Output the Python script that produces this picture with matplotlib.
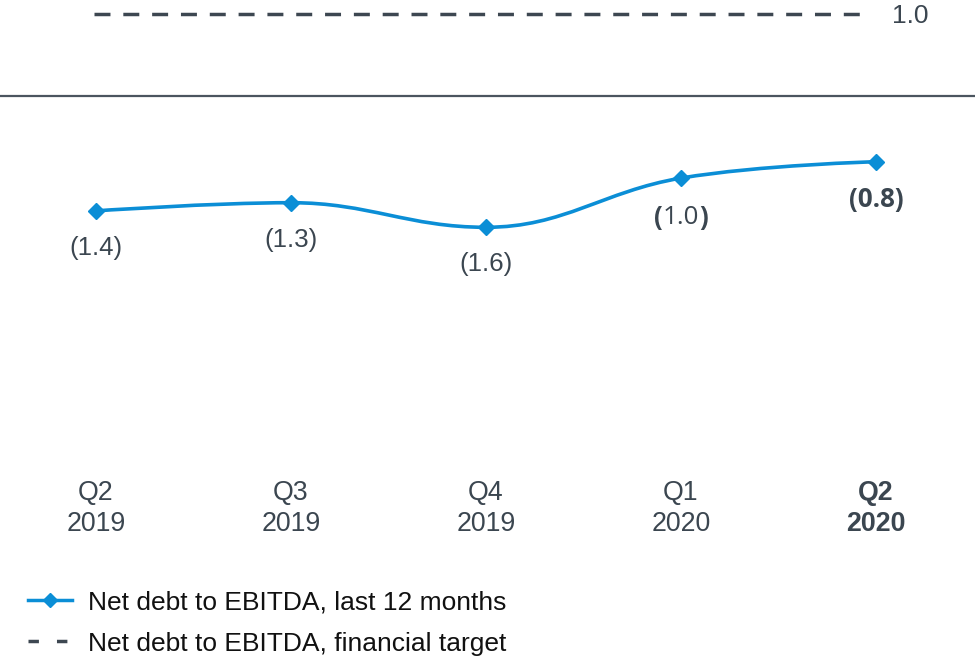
import matplotlib.pyplot as plt
from matplotlib.path import Path
from matplotlib.patches import PathPatch
from matplotlib.lines import Line2D

# data
quarters = ["Q2\n2019", "Q3\n2019", "Q4\n2019", "Q1\n2020", "Q2\n2020"]
net_debt_ebitda = [-1.4, -1.3, -1.6, -1.0, -0.8]
target = 1.0
series_label = "Net debt to EBITDA, last 12 months"
target_label = "Net debt to EBITDA, financial target"

BLUE = "#0b8ed6"
TEXT = "#3b4650"
DARK = "#3d4751"

plt.rcParams["font.family"] = ["Liberation Sans", "DejaVu Sans"]


def spline_path(xs, ys, smoothing=1.5):
    # cubic bezier through the points, tangents flattened at local extremes
    n = len(xs)
    left = [None] * n
    right = [None] * n
    denom = smoothing + 1
    for i in range(1, n - 1):
        px, py = xs[i], ys[i]
        lx, ly = xs[i - 1], ys[i - 1]
        nx, ny = xs[i + 1], ys[i + 1]
        lcx = (smoothing * px + lx) / denom
        lcy = (smoothing * py + ly) / denom
        rcx = (smoothing * px + nx) / denom
        rcy = (smoothing * py + ny) / denom
        corr = (rcy - lcy) * (rcx - px) / (rcx - lcx) + py - rcy
        lcy += corr
        rcy += corr
        if lcy > ly and lcy > py:
            lcy = max(ly, py)
            rcy = 2 * py - lcy
        elif lcy < ly and lcy < py:
            lcy = min(ly, py)
            rcy = 2 * py - lcy
        if rcy > ny and rcy > py:
            rcy = max(ny, py)
            lcy = 2 * py - rcy
        elif rcy < ny and rcy < py:
            rcy = min(ny, py)
            lcy = 2 * py - rcy
        left[i] = (lcx, lcy)
        right[i] = (rcx, rcy)
    verts = [(xs[0], ys[0])]
    codes = [Path.MOVETO]
    for i in range(1, n):
        c1 = right[i - 1] or (xs[i - 1], ys[i - 1])
        c2 = left[i] or (xs[i], ys[i])
        verts += [c1, c2, (xs[i], ys[i])]
        codes += [Path.CURVE4] * 3
    return Path(verts, codes)


W, H = 975, 659
fig = plt.figure(figsize=(W / 100, H / 100), dpi=100)
ax = fig.add_axes([0, 1 - 465 / H, 1, 465 / H])

x = list(range(len(quarters)))
ax.set_xlim(-96 / 195, (W - 96) / 195)
ax.set_ylim(-(465 - 96.1) / 82, 96.1 / 82)

# zero line
ax.axhline(0, color="#4b555f", lw=1.6, zorder=1)

# financial target
ax.hlines(target, x[0] - 0.01, x[-1] - 0.05, color=DARK, lw=2.5,
          linestyles=[(0, (4.6, 3.7))], zorder=2)
ax.annotate(f"{target:.1f}", xy=(x[-1] - 0.05, target), xytext=(18.5, -1.5),
            textcoords="offset points", ha="left", va="center",
            fontsize=19, color=TEXT)

# smoothed series + markers
ax.add_patch(PathPatch(spline_path(x, net_debt_ebitda), facecolor="none",
                       edgecolor=BLUE, lw=2.6, capstyle="round", zorder=3))
ax.plot(x, net_debt_ebitda, linestyle="none", marker="D", ms=8,
        color=BLUE, zorder=4)

# value labels
for i, v in enumerate(net_debt_ebitda):
    txt = f"({abs(v):.1f})"
    if i == len(x) - 1:
        ax.annotate(txt, xy=(i, v), xytext=(0, -27.3), textcoords="offset points",
                    ha="center", va="center", fontsize=18.7, color=TEXT,
                    family="Open Sans", fontweight="bold")
    elif i == len(x) - 2:
        mid = ax.annotate(f"{abs(v):.1f}", xy=(i, v), xytext=(0, -28.6),
                          textcoords="offset points", ha="center", va="center",
                          fontsize=18.7, color=TEXT, family="Open Sans")
        ax.annotate("(", xy=(0, 0.5), xycoords=mid, ha="right", va="center",
                    fontsize=18.7, color=TEXT, family="Open Sans", fontweight="bold")
        ax.annotate(")", xy=(1, 0.5), xycoords=mid, ha="left", va="center",
                    fontsize=18.7, color=TEXT, family="Open Sans", fontweight="bold")
    else:
        ax.annotate(txt, xy=(i, v), xytext=(0, -26.6), textcoords="offset points",
                    ha="center", va="center", fontsize=18.6, color=TEXT)

# category axis
ax.set_xticks(x)
ax.set_xticklabels(quarters, fontsize=19.3, color=TEXT, linespacing=1.25)
ax.get_xticklabels()[-1].set_fontweight("bold")
ax.tick_params(axis="x", length=0, pad=10.5)
ax.set_yticks([])
for s in ax.spines.values():
    s.set_visible(False)

# legend
handles = [
    Line2D([], [], color=BLUE, lw=2.5, marker="D", ms=7),
    Line2D([], [], color=DARK, lw=2.5, linestyle=(0, (3.0, 5.2))),
]
fig.legend(handles, [series_label, target_label], loc="upper left",
           bbox_to_anchor=(28 / W, 1 - 590.5 / H), frameon=False, fontsize=19,
           handlelength=1.67, handletextpad=0.6, labelspacing=0.65,
           borderpad=0, borderaxespad=0, labelcolor="#111111")

fig.savefig("out.png", dpi=100)
